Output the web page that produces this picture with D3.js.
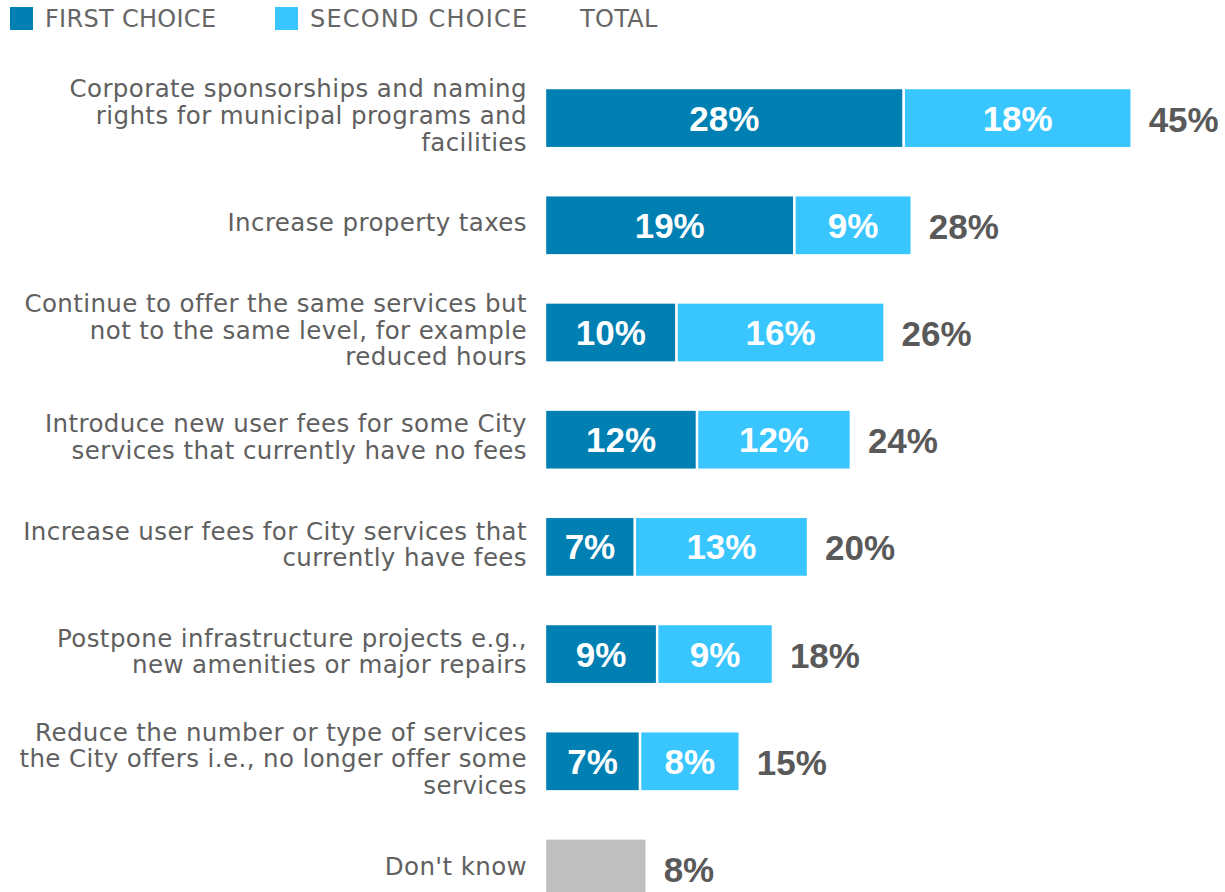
<!DOCTYPE html>
<html>
<head>
<meta charset="utf-8">
<script src="https://cdn.jsdelivr.net/npm/d3@7"></script>
<style>
  html, body { margin: 0; padding: 0; background: #ffffff; }
  svg { display: block; }
</style>
</head>
<body>
<svg id="chart" width="1225" height="892"></svg>
<script>
// ---- data ----
const categories = [
  "Corporate sponsorships and naming\nrights for municipal programs and\nfacilities",
  "Increase property taxes",
  "Continue to offer the same services but\nnot to the same level, for example\nreduced hours",
  "Introduce new user fees for some City\nservices that currently have no fees",
  "Increase user fees for City services that\ncurrently have fees",
  "Postpone infrastructure projects e.g.,\nnew amenities or major repairs",
  "Reduce the number or type of services\nthe City offers i.e., no longer offer some\nservices",
  "Don't know"
];
const firstChoice  = [27.7, 19.26, 10.16, 11.74, 6.94, 8.66, 7.34, 0];
const secondChoice = [17.6, 9.06, 16.06, 11.88, 13.37, 8.94, 7.7, 0];
const dontKnow     = [0, 0, 0, 0, 0, 0, 0, 7.85];
const seriesNames  = ["FIRST CHOICE", "SECOND CHOICE", "TOTAL"];

// ---- styles ----
const COL_FIRST = "#007FB2";
const COL_SECOND = "#39C6FF";
const COL_DK = "#BFBFBF";
const TEXT_GREY = "#595959";
const LABEL_FONT = "'DejaVu Sans', 'Noto Sans', sans-serif";
const NUM_FONT = "'Liberation Sans', Arial, sans-serif";

const svg = d3.select("#chart");

const rows = categories.map((c, i) => ({
  cat: c,
  lines: c.split("\n"),
  first: firstChoice[i],
  second: secondChoice[i],
  dk: dontKnow[i],
  total: firstChoice[i] + secondChoice[i] + dontKnow[i]
}));

const x = d3.scaleLinear().domain([0, 50]).range([545, 545 + 50 * 12.95]);
const y = d3.scaleBand()
  .domain(categories)
  .range([64.5, 64.5 + 8 * 107.2])
  .paddingInner(0.4394)
  .paddingOuter(0.4394 / 2);

// ---- legend ----
const legend = svg.append("g");
const legendItems = [
  { name: seriesNames[0], color: COL_FIRST, x: 10, ls: 0.3 },
  { name: seriesNames[1], color: COL_SECOND, x: 275, ls: 1.2 },
  { name: seriesNames[2], color: null, x: 545, ls: 0.3 }
];
legendItems.forEach(it => {
  if (it.color) {
    legend.append("rect")
      .attr("x", it.x).attr("y", 7)
      .attr("width", 23).attr("height", 23)
      .attr("fill", it.color);
  }
  legend.append("text")
    .attr("x", it.x + 35).attr("y", 27)
    .attr("font-family", LABEL_FONT)
    .attr("font-size", 24)
    .attr("letter-spacing", it.ls)
    .attr("fill", "#666666")
    .text(it.name);
});

// ---- bars ----
const g = svg.append("g");
const segs = [];
rows.forEach(r => {
  if (r.first > 0) segs.push({ cat: r.cat, x0: 0, x1: r.first, color: COL_FIRST, label: true, v: r.first });
  if (r.second > 0) segs.push({ cat: r.cat, x0: r.first, x1: r.first + r.second, color: COL_SECOND, label: true, v: r.second });
  if (r.dk > 0) segs.push({ cat: r.cat, x0: r.first + r.second, x1: r.first + r.second + r.dk, color: COL_DK, label: false, v: r.dk });
});

g.selectAll("rect.seg")
  .data(segs)
  .join("rect")
  .attr("class", "seg")
  .attr("x", d => x(d.x0))
  .attr("y", d => y(d.cat))
  .attr("width", d => x(d.x1) - x(d.x0))
  .attr("height", y.bandwidth())
  .attr("fill", d => d.color)
  .attr("stroke", "#ffffff")
  .attr("stroke-width", 2.4);

g.selectAll("text.inner")
  .data(segs.filter(d => d.label))
  .join("text")
  .attr("class", "inner")
  .attr("x", d => (x(d.x0) + x(d.x1)) / 2)
  .attr("y", d => y(d.cat) + y.bandwidth() / 2 + 12.5)
  .attr("text-anchor", "middle")
  .attr("font-family", NUM_FONT)
  .attr("font-weight", "bold")
  .attr("font-size", 35)
  .attr("fill", "#ffffff")
  .text(d => Math.round(d.v) + "%");

g.selectAll("text.total")
  .data(rows)
  .join("text")
  .attr("class", "total")
  .attr("x", d => x(d.total) + 17)
  .attr("y", d => y(d.cat) + y.bandwidth() / 2 + 13.5)
  .attr("font-family", NUM_FONT)
  .attr("font-weight", "bold")
  .attr("font-size", 35)
  .attr("fill", TEXT_GREY)
  .text(d => Math.round(d.total) + "%");

// ---- category labels ----
const lineH = 26.7;
const labels = g.selectAll("text.cat")
  .data(rows)
  .join("text")
  .attr("class", "cat")
  .attr("text-anchor", "end")
  .attr("font-family", LABEL_FONT)
  .attr("font-size", 24.5)
  .attr("letter-spacing", 0.4)
  .attr("fill", "#606060");

labels.each(function(d) {
  const cy = y(d.cat) + y.bandwidth() / 2 - 2.5;
  const n = d.lines.length;
  d3.select(this).selectAll("tspan")
    .data(d.lines)
    .join("tspan")
    .attr("x", 527)
    .attr("y", (l, i) => cy + (i - (n - 1) / 2) * lineH + 8.5)
    .text(l => l);
});
</script>
</body>
</html>
